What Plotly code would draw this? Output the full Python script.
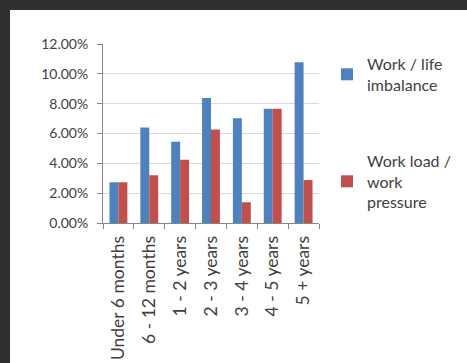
import plotly.graph_objects as go

categories = ["Under 6 months", "6 - 12 months", "1 - 2 years", "2 - 3 years",
              "3 - 4 years", "4 - 5 years", "5 + years"]
work_life = [2.73, 6.41, 5.45, 8.38, 7.02, 7.66, 10.77]
work_load = [2.73, 3.20, 4.24, 6.26, 1.39, 7.66, 2.88]
series_names = ["Work / life<br>imbalance", "Work load /<br>work<br>pressure"]
y_ticks = [0, 2, 4, 6, 8, 10, 12]
y_tick_labels = ["0.00%", "2.00%", "4.00%", "6.00%", "8.00%", "10.00%", "12.00%"]

W, H = 467, 363
L, R, T, B = 103, 319, 44, 223

def px_x(p):
    return (p - L) / (R - L)

def px_y(p):
    return (B - p) / (B - T)

font_fam = "Lato, 'Open Sans', sans-serif"
txt = "#404040"
dark = "#303030"

fig = go.Figure()
fig.add_trace(go.Bar(x=categories, y=work_life, name=series_names[0],
                     marker=dict(color="#4F81BD", line=dict(width=0)),
                     legendgroup="a"))
fig.add_trace(go.Bar(x=categories, y=work_load, name=series_names[1],
                     marker=dict(color="#C0504D", line=dict(width=0)),
                     legendgroup="b"))

# dark frame along the top and left edges
fig.add_shape(type="rect", xref="paper", yref="paper",
              x0=px_x(-5), x1=px_x(480), y0=px_y(10), y1=px_y(-5),
              fillcolor=dark, line=dict(width=0), layer="below")
fig.add_shape(type="rect", xref="paper", yref="paper",
              x0=px_x(-5), x1=px_x(10), y0=px_y(380), y1=px_y(-5),
              fillcolor=dark, line=dict(width=0), layer="below")

fig.update_layout(
    width=W, height=H,
    margin=dict(l=L, r=W - R, t=T, b=H - B, pad=0, autoexpand=False),
    paper_bgcolor="white",
    plot_bgcolor="white",
    barmode="group",
    bargap=0.42,
    bargroupgap=0,
    font=dict(family=font_fam, color=txt),
    legend=dict(x=px_x(327), y=px_y(47), xanchor="left", yanchor="top",
                font=dict(size=16, color=txt, family=font_fam),
                tracegroupgap=52, traceorder="grouped",
                bgcolor="rgba(0,0,0,0)", itemwidth=30),
    xaxis=dict(type="category", tickangle=-90, tickson="boundaries",
               ticks="outside", ticklen=5, tickcolor="#868686",
               showline=True, linecolor="#868686", linewidth=1,
               ticklabelstandoff=5,
               tickfont=dict(size=17.5, color=txt), showgrid=False),
    yaxis=dict(range=[0, 12], tickvals=y_ticks, ticktext=y_tick_labels,
               ticks="outside", ticklen=5, tickcolor="#868686",
               showline=True, linecolor="#868686", linewidth=1,
               ticklabelstandoff=6,
               showgrid=True, gridcolor="#D9D9D9", gridwidth=1,
               zeroline=False, tickfont=dict(size=14, color=txt)),
)

fig.write_html("out.html")
